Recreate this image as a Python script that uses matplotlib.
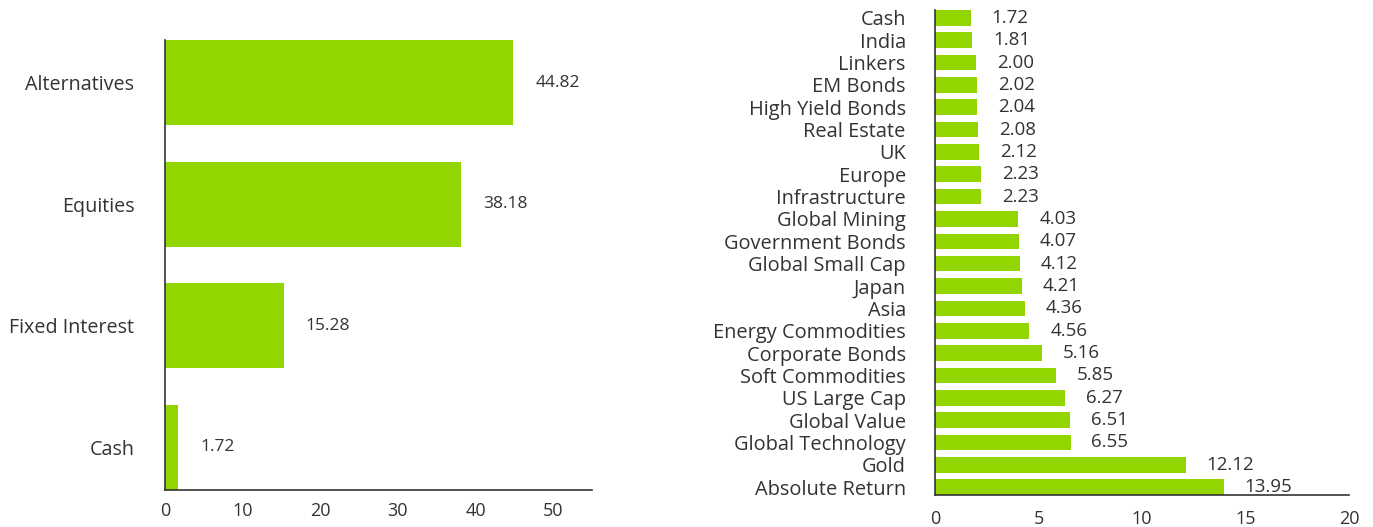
import matplotlib
matplotlib.use("Agg")
import matplotlib.pyplot as plt

plt.rcParams['font.family'] = ['Open Sans', 'DejaVu Sans']

left_cats = ["Alternatives", "Equities", "Fixed Interest", "Cash"]
left_vals = [44.82, 38.18, 15.28, 1.72]
left_ticks = [0, 10, 20, 30, 40, 50]

right_cats = ["Cash", "India", "Linkers", "EM Bonds", "High Yield Bonds", "Real Estate",
              "UK", "Europe", "Infrastructure", "Global Mining", "Government Bonds",
              "Global Small Cap", "Japan", "Asia", "Energy Commodities", "Corporate Bonds",
              "Soft Commodities", "US Large Cap", "Global Value", "Global Technology",
              "Gold", "Absolute Return"]
right_vals = [1.72, 1.81, 2.00, 2.02, 2.04, 2.08, 2.12, 2.23, 2.23, 4.03, 4.07, 4.12,
              4.21, 4.36, 4.56, 5.16, 5.85, 6.27, 6.51, 6.55, 12.12, 13.95]
right_ticks = [0, 5, 10, 15, 20]

GREEN = '#93d500'
TXT = '#333333'
W, H = 1373, 527
fig = plt.figure(figsize=(W / 100, H / 100), dpi=100)

def setup(ax):
    for s in ['top', 'right']:
        ax.spines[s].set_visible(False)
    for s in ['left', 'bottom']:
        ax.spines[s].set_color(TXT)
        ax.spines[s].set_linewidth(1.2)
    ax.tick_params(length=0, colors=TXT)

# Left chart
axL = fig.add_axes([165 / W, 1 - 490 / H, (592 - 165) / W, (490 - 40) / H])
n = len(left_cats)
yL = list(range(n - 1, -1, -1))
axL.barh(yL, left_vals, height=0.7, color=GREEN)
axL.set_ylim(-0.35, n - 1 + 0.35)
axL.set_xlim(0, 55)
axL.set_xticks(left_ticks)
axL.set_yticks(yL)
axL.set_yticklabels(left_cats, fontsize=14.2)
axL.tick_params(axis='y', pad=22)
axL.tick_params(axis='x', pad=9, labelsize=13)
setup(axL)
for y, v in zip(yL, left_vals):
    axL.annotate(f"{v:.2f}", (v, y), xytext=(16, 0), textcoords='offset points',
                 va='center', ha='left', fontsize=12.5, color=TXT)

# Right chart
axR = fig.add_axes([935 / W, 1 - 495 / H, (1349 - 935) / W, (495 - 10) / H])
m = len(right_cats)
yR = list(range(m - 1, -1, -1))
axR.barh(yR, right_vals, height=0.7, color=GREEN)
axR.set_ylim(-0.35, m - 1 + 0.35)
axR.set_xlim(0, 20)
axR.set_xticks(right_ticks)
axR.set_yticks(yR)
axR.set_yticklabels(right_cats, fontsize=14.4)
axR.tick_params(axis='y', pad=21)
axR.tick_params(axis='x', pad=11, labelsize=13)
setup(axR)
for y, v in zip(yR, right_vals):
    axR.annotate(f"{v:.2f}", (v, y), xytext=(15, 0), textcoords='offset points',
                 va='center', ha='left', fontsize=13.5, color=TXT)

fig.savefig("out.png", dpi=100)
